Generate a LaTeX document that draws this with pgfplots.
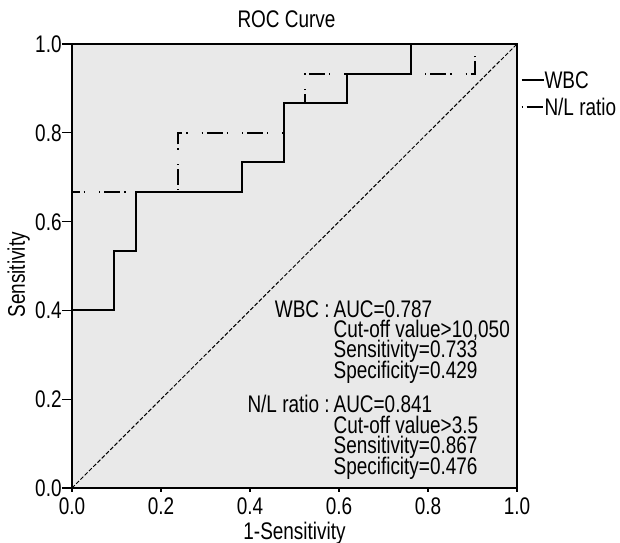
\documentclass[border=0pt]{standalone}
\usepackage{fontspec}
\setmainfont{Liberation Sans}[FakeStretch=0.79]
\usepackage{pgfplots}
\pgfplotsset{compat=1.18}
\definecolor{panel}{RGB}{233,233,233}

\begin{document}
\begin{tikzpicture}[font=\fontsize{12}{14}\selectfont]
  \begin{axis}[
      name=ax,
      scale only axis,
      width=222.5pt, height=222pt,
      xmin=0, xmax=1, ymin=0, ymax=1,
      axis background/.style={fill=panel},
      axis line style={black, line width=0.8pt},
      xtick={0,0.2,...,1}, ytick={0,0.2,...,1},
      xticklabels={0.0,0.2,0.4,0.6,0.8,1.0},
      yticklabels={0.0,0.2,0.4,0.6,0.8,1.0},
      tick align=outside,
      xtick pos=bottom, ytick pos=left,
      major tick length=5pt,
      tick style={black, line width=0.6pt},
      xtick style={/pgfplots/major tick length=2pt},
      x tick label style={anchor=north, inner sep=0pt, text height=8.5pt, text depth=0pt, yshift=0.5pt},
      y tick label style={anchor=east, inner sep=0pt, text height=8.5pt, text depth=0pt},
      /pgf/number format/assume math mode=true,
      title={ROC Curve},
      title style={at={(axis description cs:0.482,1.009)}, anchor=base, inner sep=0pt},
      xlabel={1-Sensitivity},
      xlabel style={at={(axis description cs:0.5,-0.116)}, anchor=base, inner sep=0pt},
      ylabel={Sensitivity},
      ylabel style={at={(axis description cs:-0.106,0.48)}, anchor=base, rotate=0, inner sep=0pt},
      legend style={draw=none, fill=none, at={(axis description cs:1.007,0.939)},
        anchor=north west, inner sep=0pt, row sep=5pt, column sep=0pt,
        nodes={inner sep=0pt, text height=8.5pt, text depth=0pt}},
      legend cell align=left,
      legend image code/.code={\draw[#1] (0pt,0pt) -- (11pt,0pt);},
      clip=false,
    ]
    % WBC
    \addplot[black, line width=1pt] coordinates {
      (0,0) (0,0.4) (0.0952,0.4) (0.0952,0.5333) (0.1429,0.5333)
      (0.1429,0.6667) (0.3810,0.6667) (0.3810,0.7333) (0.4762,0.7333)
      (0.4762,0.8667) (0.6190,0.8667) (0.6190,0.9333) (0.7619,0.9333)
      (0.7619,1) (1,1)
    };
    % N/L ratio
    \addplot[black, line width=1pt,
      dash pattern=on 0.6pt off 2pt on 8pt off 2pt on 0.6pt off 7pt] coordinates {
      (0,0) (0,0.6667) (0.2381,0.6667) (0.2381,0.8) (0.4762,0.8)
      (0.4762,0.8667) (0.5238,0.8667) (0.5238,0.9333) (0.9048,0.9333)
      (0.9048,1) (1,1)
    };
    % reference line
    \addplot[black, line width=0.5pt, dash pattern=on 2pt off 1pt, forget plot]
      coordinates {(0,0) (1,1)};
    \legend{WBC, N/L ratio}

    \node[anchor=base east, inner sep=0pt] at (axis cs:0.580,0.385) {WBC :};
    \node[anchor=base west, inner sep=0pt] at (axis cs:0.587,0.385) {AUC=0.787};
    \node[anchor=base west, inner sep=0pt] at (axis cs:0.587,0.339) {Cut-off value>10,050};
    \node[anchor=base west, inner sep=0pt] at (axis cs:0.587,0.293) {Sensitivity=0.733};
    \node[anchor=base west, inner sep=0pt] at (axis cs:0.587,0.246) {Specificity=0.429};
    \node[anchor=base east, inner sep=0pt] at (axis cs:0.580,0.169) {N/L ratio :};
    \node[anchor=base west, inner sep=0pt] at (axis cs:0.587,0.169) {AUC=0.841};
    \node[anchor=base west, inner sep=0pt] at (axis cs:0.587,0.123) {Cut-off value>3.5};
    \node[anchor=base west, inner sep=0pt] at (axis cs:0.587,0.077) {Sensitivity=0.867};
    \node[anchor=base west, inner sep=0pt] at (axis cs:0.587,0.031) {Specificity=0.476};
  \end{axis}
  \pgfresetboundingbox
  \path (ax.south west) ++(-36pt,-27.5pt) rectangle ([shift={(51.5pt,22pt)}]ax.north east);
\end{tikzpicture}
\end{document}
